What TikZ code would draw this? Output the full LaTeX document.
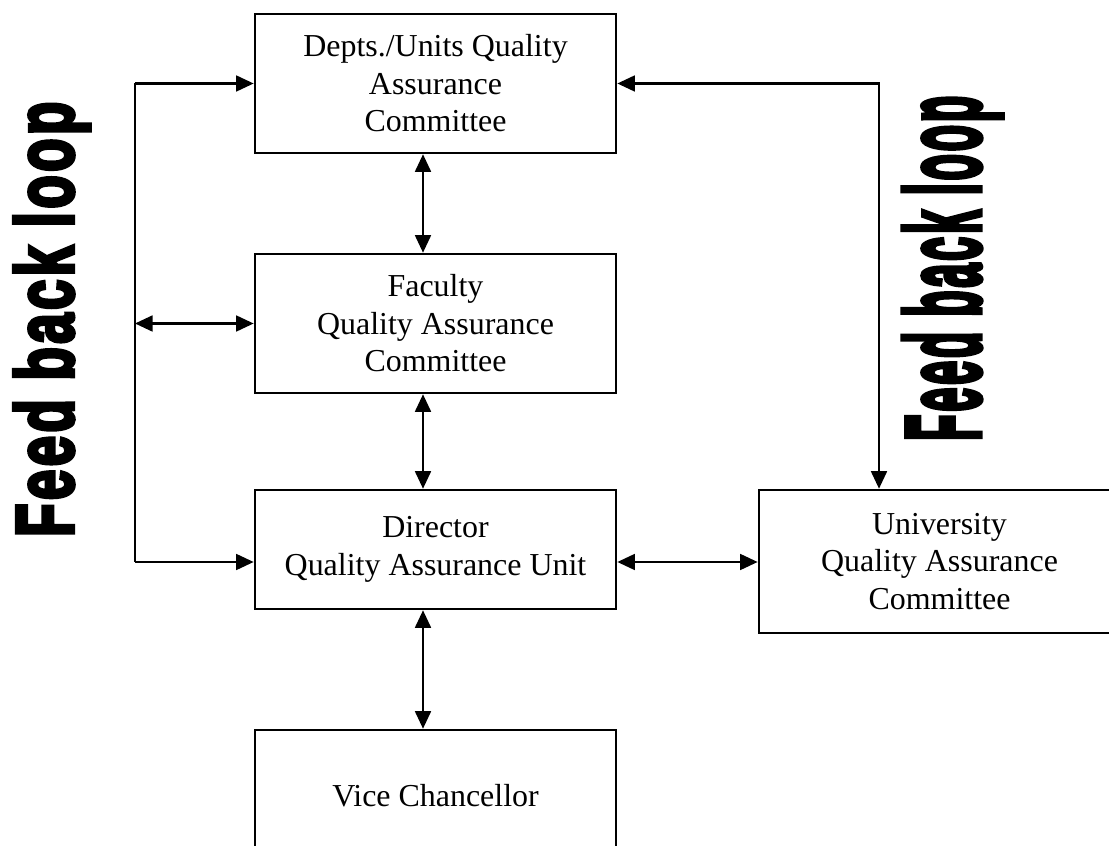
\documentclass[tikz,border=0pt]{standalone}
\usepackage{fontspec}
\setmainfont{Liberation Serif}
\newfontfamily\loopfont{Liberation Sans Bold}[FakeBold=5,LetterSpace=6]
\usetikzlibrary{arrows.meta,positioning}

\begin{document}
\begin{tikzpicture}[x=0.012cm,y=-0.012cm,
  every node/.style={font=\fontsize{10.9}{12.8}\selectfont},
  >={Triangle[length=0.21cm,width=0.19cm]}, line width=0.75pt,
  qbox/.style={draw,line width=0.85pt,align=center,minimum
    width=4.332cm,inner sep=0pt},
  loopword/.style={rotate=90,anchor=base west,inner sep=0pt}
  ]
  \useasboundingbox (0,0) rectangle (1109,846); \clip (0,0) rectangle (1109,846);
  \node[qbox,minimum height=1.668cm] (depts) at (435.5,83.5)
  {Depts./Units Quality\\Assurance\\Committee}; \node[qbox,minimum
  height=1.668cm] (fac) at (435.5,323.5) {Faculty\\Quality
    Assurance\\Committee}; \node[qbox,minimum height=1.428cm] (dir)
  at (435.5,549.5) {Director\\Quality Assurance Unit};
  \node[qbox,minimum height=1.584cm] (vc) at (435.5,796) {Vice
    Chancellor}; \node[qbox,minimum height=1.716cm] (uni) at
  (939.5,561.5) {University\\Quality Assurance\\Committee};
  \node[loopword] (loopL) at (73,538) {\resizebox{5.22cm}{0.708cm}{\loopfont Feed back loop}};
  \node[loopword] (loopR) at (980,442) {\resizebox{4.14cm}{0.924cm}{\loopfont Feed back loop}};
  \coordinate (lx) at (135,0); \coordinate (rx) at (879,0);
  \coordinate (vx) at (423,0); \coordinate (lvl) at (0,562);
  \draw (lx |- depts.west) -- (lx |- lvl); \draw[->] (lx |-
  depts.west) -- (depts.west); \draw[<->] (lx |- fac.west) --
  (fac.west); \draw[->] (lx |- lvl) -- (dir.west |- lvl);
  \draw[<->] (depts.east) -- (rx |- depts.east) -- (rx |- uni.north);
  \draw[<->] (vx |- depts.south) -- (vx |- fac.north); \draw[<->]
  (vx |- fac.south) -- (vx |- dir.north); \draw[<->] (vx |-
  dir.south) -- (vx |- vc.north); \draw[<->] (dir.east |- lvl) --
  (uni.west |- lvl);
\end{tikzpicture}
\end{document}
